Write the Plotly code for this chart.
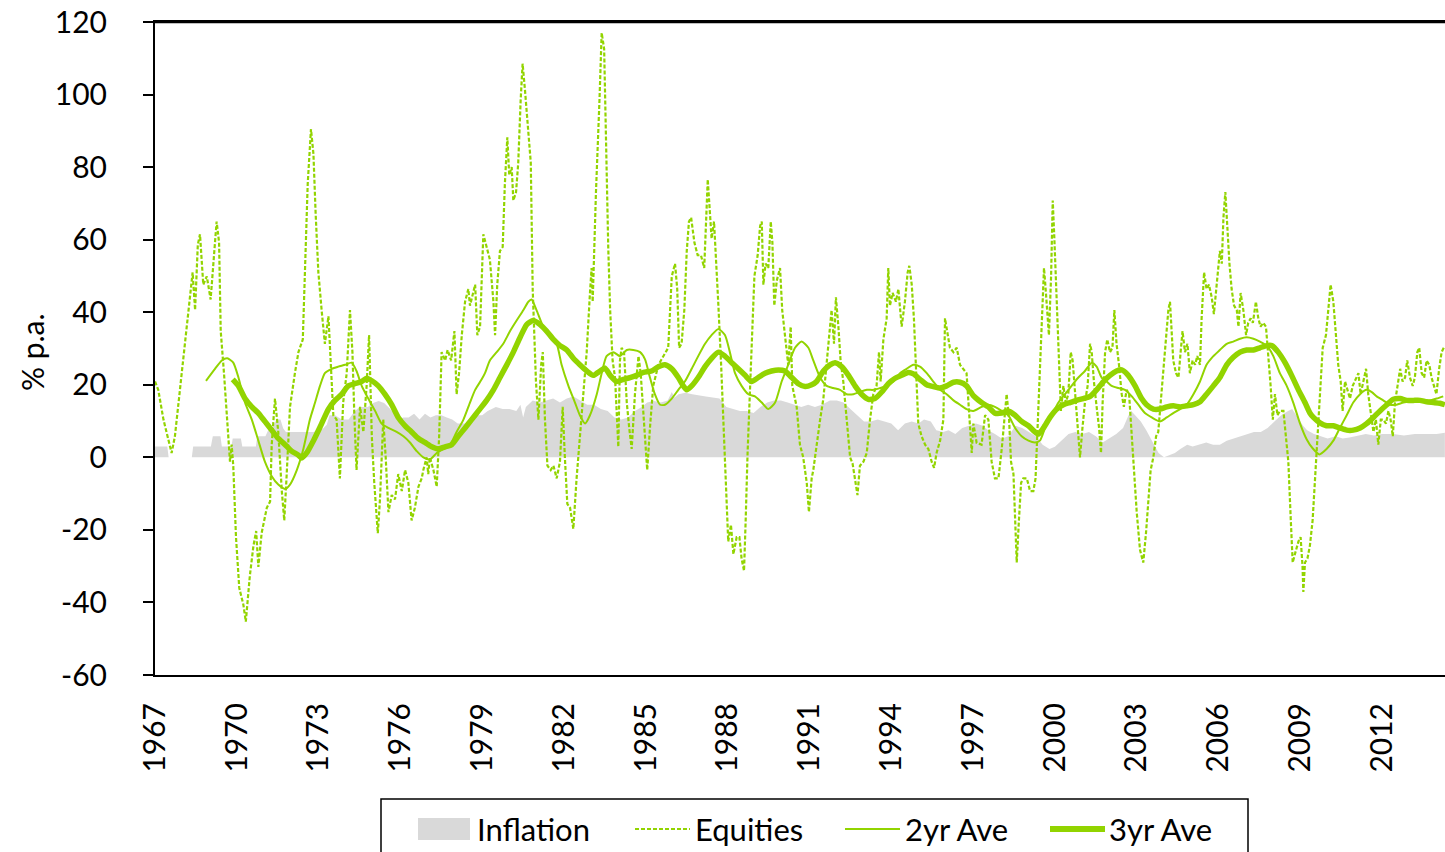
import plotly.graph_objects as go

# ---------------- data ----------------
tick_years = [1967, 1970, 1973, 1976, 1979, 1982, 1985, 1988, 1991, 1994, 1997, 2000, 2003, 2006, 2009, 2012]
tick_labels = [str(y) for y in tick_years]
y_ticks = [120, 100, 80, 60, 40, 20, 0, -20, -40, -60]
y_tick_labels = ["120", "100", "80", "60", "40", "20", "0", "-20", "-40", "-60"]

infl_year = [1967.00, 1967.45, 1967.50, 1968.35, 1968.40, 1969.05, 1969.12, 1969.40, 1969.45, 1969.80,
             1969.85, 1970.15, 1970.20, 1970.70, 1970.75, 1971.05, 1971.15, 1971.30, 1971.45, 1971.60,
             1971.70, 1971.80, 1972.10, 1972.40, 1972.80, 1973.10, 1973.30, 1973.40, 1973.60, 1973.85,
             1974.10, 1974.30, 1974.50, 1974.80, 1975.00, 1975.20, 1975.40, 1975.60, 1975.80, 1975.95,
             1976.10, 1976.30, 1976.50, 1976.70, 1976.90, 1977.10, 1977.30, 1977.50, 1977.70, 1977.90,
             1978.10, 1978.40, 1978.60, 1978.80, 1979.00, 1979.20, 1979.50, 1979.75, 1980.00, 1980.25,
             1980.40, 1980.50, 1980.60, 1980.85, 1981.10, 1981.35, 1981.60, 1981.85, 1982.10, 1982.35,
             1982.60, 1982.85, 1983.10, 1983.35, 1983.60, 1983.85, 1984.10, 1984.35, 1984.60, 1984.85,
             1985.05, 1985.30, 1985.55, 1985.80, 1985.95, 1986.05, 1986.20, 1986.45, 1986.70, 1986.95,
             1987.20, 1987.45, 1987.70, 1987.95, 1988.20, 1988.45, 1988.70, 1988.95, 1989.20, 1989.45,
             1989.70, 1989.95, 1990.20, 1990.45, 1990.70, 1990.95, 1991.20, 1991.45, 1991.75, 1992.00,
             1992.25, 1992.50, 1992.75, 1993.00, 1993.25, 1993.50, 1993.75, 1994.00, 1994.25, 1994.50,
             1994.75, 1995.00, 1995.20, 1995.45, 1995.65, 1995.90, 1996.10, 1996.35, 1996.60, 1996.85,
             1997.10, 1997.35, 1997.55, 1997.80, 1998.05, 1998.30, 1998.55, 1998.80, 1999.05, 1999.30,
             1999.55, 1999.80, 2000.00, 2000.25, 2000.50, 2000.75, 2001.00, 2001.25, 2001.50, 2001.75,
             2002.00, 2002.25, 2002.50, 2002.70, 2002.80, 2002.95, 2003.15, 2003.35, 2003.60, 2003.80,
             2004.00, 2004.20, 2004.40, 2004.60, 2004.85, 2005.05, 2005.30, 2005.55, 2005.80, 2006.05,
             2006.30, 2006.55, 2006.80, 2007.00, 2007.30, 2007.55, 2007.80, 2008.05, 2008.30, 2008.55,
             2008.70, 2008.90, 2009.10, 2009.25, 2009.50, 2009.75, 2010.00, 2010.30, 2010.55, 2010.80,
             2011.10, 2011.40, 2011.70, 2012.00, 2012.40, 2012.80, 2013.20, 2013.60, 2014.00, 2014.30]
infl_val = [3, 3, 0, 0, 3, 3, 5.8, 5.8, 3, 3,
            5.2, 5.2, 3, 3, 5.8, 5.8, 7.5, 8, 10.4, 10.4,
            8, 7, 7, 7, 7, 7.5, 9, 11.6, 11.6, 10.4,
            10.4, 12.5, 13.9, 13.9, 15, 15.5, 15, 13.5, 11.6, 10.4,
            11, 11, 12, 10.4, 12, 11, 11.6, 11.6, 11, 10.4,
            9.3, 9.3, 10.4, 11.6, 11.6, 12.8, 13.9, 13.3, 13.3, 12.8,
            14.5, 11, 13.9, 15.7, 15.1, 15.7, 16.2, 15.1, 16.2, 16.8,
            15.7, 14.5, 14.5, 13.3, 12.8, 11, 10.4, 11, 12.8, 13.9,
            15.1, 15.5, 15.1, 15.7, 18.0, 16.5, 17.4, 17.8, 17.4, 17.0,
            16.8, 16.5, 16.2, 13.9, 13.3, 12.8, 12.8, 12.2, 13.9, 15.1,
            15.7, 15.7, 15.1, 14.5, 13.9, 14.5, 13.9, 14.5, 15.7, 15.7,
            15.1, 13.3, 11.6, 9.9, 9.9, 10.4, 9.9, 9.3, 7.5, 9.3,
            9.9, 9.3, 10.4, 9.9, 7.5, 7, 7.5, 6.4, 8.1, 8.7,
            9.3, 8.7, 7.5, 6.4, 5.2, 5.8, 8.7, 8.1, 7, 5.8,
            3.5, 2.3, 2.9, 4.6, 6.4, 7, 6.4, 7, 5.8, 4.1,
            5.2, 6.4, 8.1, 11.6, 12.8, 11.6, 9.9, 7.5, 4.1, 1.2,
            0, 0.6, 1.2, 2.3, 3.5, 3, 3.5, 4.1, 3.5, 3.5,
            4.6, 5.2, 5.8, 6.4, 7, 7, 8.1, 9.9, 11.6, 12.8,
            13.3, 11, 8.7, 7.5, 6.4, 5.8, 5.2, 5.8, 5.2, 5.5,
            6, 6.4, 6, 6.4, 6.4, 6, 6.4, 6.4, 6.4, 6.8]

eq_year = [1967.00, 1967.12, 1967.31, 1967.49, 1967.61, 1967.73, 1967.92, 1968.10, 1968.22, 1968.38,
           1968.47, 1968.57, 1968.65, 1968.77, 1968.90, 1969.04, 1969.20, 1969.26, 1969.35, 1969.41,
           1969.53, 1969.69, 1969.75, 1969.81, 1969.87, 1969.97, 1970.09, 1970.24, 1970.33, 1970.48,
           1970.61, 1970.71, 1970.79, 1970.91, 1971.10, 1971.22, 1971.28, 1971.40, 1971.52, 1971.65,
           1971.74, 1971.83, 1971.95, 1972.13, 1972.26, 1972.42, 1972.50, 1972.60, 1972.72, 1972.81,
           1972.89, 1972.99, 1973.11, 1973.23, 1973.36, 1973.42, 1973.54, 1973.66, 1973.78, 1973.90,
           1974.03, 1974.15, 1974.24, 1974.31, 1974.39, 1974.52, 1974.64, 1974.76, 1974.85, 1974.95,
           1975.04, 1975.17, 1975.25, 1975.37, 1975.46, 1975.56, 1975.68, 1975.80, 1975.92, 1976.05,
           1976.17, 1976.29, 1976.41, 1976.53, 1976.66, 1976.78, 1976.84, 1976.96, 1977.02, 1977.08,
           1977.21, 1977.33, 1977.42, 1977.51, 1977.64, 1977.73, 1977.86, 1977.98, 1978.06, 1978.15,
           1978.25, 1978.37, 1978.49, 1978.55, 1978.65, 1978.74, 1978.82, 1978.92, 1979.04, 1979.16,
           1979.28, 1979.41, 1979.47, 1979.55, 1979.65, 1979.75, 1979.83, 1979.92, 1979.99, 1980.08,
           1980.14, 1980.24, 1980.32, 1980.41, 1980.48, 1980.57, 1980.69, 1980.78, 1980.85, 1980.97,
           1981.06, 1981.16, 1981.22, 1981.30, 1981.39, 1981.51, 1981.61, 1981.73, 1981.85, 1981.95,
           1982.03, 1982.12, 1982.22, 1982.34, 1982.46, 1982.56, 1982.71, 1982.83, 1982.95, 1983.01,
           1983.05, 1983.17, 1983.30, 1983.38, 1983.47, 1983.56, 1983.62, 1983.69, 1983.78, 1983.87,
           1983.93, 1983.99, 1984.05, 1984.11, 1984.20, 1984.30, 1984.39, 1984.48, 1984.60, 1984.73,
           1984.81, 1984.91, 1984.99, 1985.05, 1985.15, 1985.27, 1985.46, 1985.64, 1985.82, 1985.95,
           1986.07, 1986.15, 1986.22, 1986.31, 1986.41, 1986.50, 1986.58, 1986.66, 1986.78, 1986.90,
           1987.02, 1987.14, 1987.20, 1987.27, 1987.35, 1987.41, 1987.50, 1987.56, 1987.66, 1987.76,
           1987.84, 1987.93, 1988.02, 1988.12, 1988.21, 1988.33, 1988.43, 1988.51, 1988.60, 1988.66,
           1988.73, 1988.86, 1988.98, 1989.10, 1989.19, 1989.25, 1989.31, 1989.39, 1989.49, 1989.58,
           1989.64, 1989.71, 1989.80, 1989.92, 1990.00, 1990.10, 1990.22, 1990.31, 1990.37, 1990.53,
           1990.65, 1990.77, 1990.90, 1990.98, 1991.08, 1991.14, 1991.26, 1991.39, 1991.51, 1991.63,
           1991.75, 1991.81, 1991.90, 1991.97, 1992.06, 1992.14, 1992.24, 1992.36, 1992.49, 1992.58,
           1992.67, 1992.76, 1992.85, 1992.98, 1993.10, 1993.22, 1993.34, 1993.46, 1993.55, 1993.61,
           1993.71, 1993.83, 1993.89, 1993.95, 1994.05, 1994.17, 1994.26, 1994.38, 1994.50, 1994.60,
           1994.66, 1994.75, 1994.83, 1994.91, 1994.99, 1995.11, 1995.24, 1995.36, 1995.48, 1995.57,
           1995.66, 1995.79, 1995.91, 1995.97, 1996.06, 1996.15, 1996.28, 1996.40, 1996.52, 1996.64,
           1996.76, 1996.86, 1996.95, 1997.01, 1997.13, 1997.31, 1997.44, 1997.56, 1997.68, 1997.80,
           1997.93, 1998.05, 1998.15, 1998.23, 1998.32, 1998.39, 1998.48, 1998.54, 1998.60, 1998.68,
           1998.76, 1998.84, 1998.97, 1999.09, 1999.21, 1999.29, 1999.37, 1999.45, 1999.51, 1999.60,
           1999.66, 1999.74, 1999.78, 1999.86, 1999.92, 1999.98, 2000.07, 2000.15, 2000.22, 2000.31,
           2000.40, 2000.49, 2000.58, 2000.65, 2000.74, 2000.83, 2000.92, 2001.01, 2001.10, 2001.20,
           2001.29, 2001.35, 2001.43, 2001.53, 2001.62, 2001.69, 2001.75, 2001.84, 2001.92, 2002.02,
           2002.11, 2002.18, 2002.26, 2002.35, 2002.45, 2002.53, 2002.63, 2002.72, 2002.82, 2002.91,
           2003.00, 2003.12, 2003.24, 2003.34, 2003.43, 2003.51, 2003.61, 2003.71, 2003.79, 2003.88,
           2003.98, 2004.07, 2004.16, 2004.22, 2004.28, 2004.34, 2004.44, 2004.53, 2004.61, 2004.68,
           2004.77, 2004.86, 2004.95, 2005.05, 2005.14, 2005.22, 2005.32, 2005.38, 2005.47, 2005.56,
           2005.65, 2005.75, 2005.83, 2005.91, 2005.99, 2006.05, 2006.12, 2006.18, 2006.25, 2006.32,
           2006.40, 2006.48, 2006.57, 2006.67, 2006.73, 2006.81, 2006.91, 2007.01, 2007.09, 2007.18,
           2007.26, 2007.37, 2007.46, 2007.54, 2007.64, 2007.74, 2007.82, 2007.91, 2007.99, 2008.07,
           2008.16, 2008.25, 2008.38, 2008.47, 2008.56, 2008.65, 2008.72, 2008.80, 2008.93, 2009.01,
           2009.08, 2009.11, 2009.17, 2009.26, 2009.35, 2009.45, 2009.54, 2009.62, 2009.72, 2009.82,
           2009.94, 2010.03, 2010.11, 2010.21, 2010.31, 2010.39, 2010.48, 2010.55, 2010.64, 2010.72,
           2010.82, 2010.92, 2011.04, 2011.13, 2011.21, 2011.31, 2011.41, 2011.49, 2011.58, 2011.68,
           2011.77, 2011.86, 2011.95, 2012.04, 2012.14, 2012.23, 2012.31, 2012.39, 2012.47, 2012.56,
           2012.66, 2012.75, 2012.84, 2012.92, 2013.02, 2013.12, 2013.20, 2013.29, 2013.36, 2013.45,
           2013.54, 2013.63, 2013.73, 2013.81, 2013.90, 2013.99, 2014.09, 2014.18, 2014.26]
eq_val = [20.9, 18.6, 10.4, 4.6, 1.2, 5.8, 18.6, 31.3, 40.6, 51,
          40.6, 58.6, 61.5, 47.6, 49.9, 43.5, 59.2, 65, 59.2, 34.8,
          23.2, 7, -1.2, 3.5, -2.3, -22, -36, -40.6, -45.3, -32.5,
          -24.4, -20.3, -30.2, -20.9, -13.9, -12.2, 3.5, 16.2, 7, -9.3,
          -17.4, -4.6, 13.9, 23.2, 29, 32.5, 52.2, 75.4, 90.5, 83.6,
          67.3, 51, 40.6, 31.3, 38.9, 30.2, 11.6, 10.4, -5.8, 15.1,
          23.2, 40.6, 29, 11.6, -3.5, 13.9, 7, 19.7, 33.7, 5.8,
          -7, -20.9, -11.6, 10.4, 0, -15.1, -10.4, -11.6, -4.6, -9.3,
          -3.5, -7, -17.4, -13.9, -8.1, -5.8, -3.5, 0, -4.6, 0,
          -3.5, -8.1, 5.8, 29, 26.7, 29.6, 26.7, 34.8, 17.4, 23.2,
          33.7, 42.9, 46.4, 41.8, 45.3, 47.6, 33.7, 36, 61.5, 58,
          54.5, 42.9, 33.7, 47.6, 56.9, 58, 75.4, 88.2, 77.8, 80,
          70.8, 73.1, 81.2, 98.6, 108.5, 101, 89.4, 81.2, 46.4, 20.9,
          10.4, 25.5, 29, 10.4, -2.3, -3.5, -2.3, -5.8, -1.2, 13.9,
          0, -12.8, -13.9, -19.7, -5.8, 3.5, 17.4, 29, 45.3, 52.2,
          42.9, 73.1, 98.6, 117, 112.6, 75.4, 58, 40.6, 26.7, 22,
          11.6, 2.9, 26.7, 30.2, 29, 15.1, 8.1, 2.3, 17.4, 27.9,
          23.2, 11.6, 2.3, -3.5, 8.1, 19.7, 25.5, 27.9, 30.2, 49.9,
          53.4, 46.4, 30.2, 31.3, 40.6, 56.9, 65, 66.1, 59.2, 55.7,
          55.7, 52.2, 66.1, 76.6, 67.3, 60.3, 65, 56.9, 41.8, 25.5,
          10.4, -5.8, -23.2, -18.6, -26.7, -22, -22, -27.9, -31.3, -17.4,
          1.2, 26.7, 49.9, 55.7, 63.8, 65, 47.6, 53.4, 52.2, 65,
          59.2, 41.8, 48.7, 52.2, 40.6, 33.7, 25.5, 36, 19.7, 13.9,
          3.5, 0, -7, -15.1, -5.8, -3.5, 3.5, 10.4, 16.2, 26.7,
          37.1, 40.6, 31.3, 44.1, 36, 26.7, 20.9, 10.4, 0, -1.7,
          -5.8, -10.4, -2.3, -1.2, 1.2, 10.4, 17.4, 19.7, 29, 20.9,
          32.5, 38.3, 52.2, 41.8, 45.3, 42.9, 46.4, 36, 42.9, 51,
          52.8, 47.6, 38.3, 25.5, 9.3, 5.8, 3.5, 2.3, -1.2, -2.9,
          1.2, 4.6, 10.4, 38.3, 33.7, 30.2, 29, 30.2, 25.5, 24.4,
          23.2, 11.6, 1.2, 9.3, 4, 3.5, 11.6, 10.4, -1.2, -5.8,
          -5.8, 2.3, 10.4, 17.4, 10.4, -1.2, -4.6, -17.4, -29, -17.4,
          -7, -5.8, -5.8, -9.3, -9.3, -5.8, 10.4, 22, 33.7, 52.2,
          46.4, 36, 33.7, 49.9, 70.8, 60.3, 42.9, 24.4, 12.8, 19.7,
          15.1, 17.4, 29, 26.7, 17.4, 8.1, 0, 8.1, 15.1, 19.7,
          31.3, 29, 20.9, 13.9, 8.1, 1.2, 15.1, 29, 32.5, 29,
          30.2, 40.6, 31.3, 25.5, 17.4, 13.9, 18.6, 17.4, 5.8, -5.8,
          -15.1, -25.5, -29, -20.9, -11.6, -3.5, 0, 5.8, 7, 15.1,
          23.2, 32.5, 40.6, 42.9, 34.8, 26.7, 23.2, 22, 29, 34.8,
          29, 31.3, 23.2, 26.7, 25.5, 27.9, 25.5, 38.3, 51, 46.4,
          47.6, 44.1, 39.5, 45.3, 52.2, 56.9, 53.4, 66.1, 73.1, 63.8,
          53.4, 46.4, 41.8, 40.6, 36, 45.3, 40.6, 33.7, 37.1, 38.3,
          37.1, 42.9, 38.3, 36, 37.1, 36, 29, 19.7, 10.4, 17.4,
          11.6, 12.8, 12.8, 5.8, -1.2, -17.4, -29, -26.7, -23.2, -22,
          -30, -37.1, -29, -27.9, -24.4, -17.4, -5.8, 5.8, 19.7, 30.2,
          33.7, 40.6, 47.6, 42.9, 33.7, 25.5, 20.9, 12.8, 20.9, 18.6,
          16.2, 19.7, 22, 23.2, 17.4, 20.9, 24.4, 17.4, 12.8, 7,
          10.4, 3.5, 10.4, 10.4, 9.3, 12.8, 10.4, 5.8, 15.1, 19.7,
          24.4, 20.9, 22, 26.7, 22, 19.7, 22, 29, 30.2, 23.2,
          22, 26.7, 25.5, 22, 19.7, 17.4, 24.4, 29, 30.2]

ave2_year = [1968.87, 1969.20, 1969.45, 1969.65, 1969.87, 1970.06, 1970.30, 1970.55, 1970.79, 1971.03,
             1971.28, 1971.52, 1971.77, 1971.95, 1972.20, 1972.44, 1972.68, 1972.87, 1973.05, 1973.23,
             1973.48, 1973.72, 1973.97, 1974.21, 1974.39, 1974.58, 1974.82, 1975.07, 1975.31, 1975.56,
             1975.86, 1976.11, 1976.35, 1976.60, 1976.84, 1977.08, 1977.33, 1977.57, 1977.82, 1978.06,
             1978.31, 1978.55, 1978.74, 1978.98, 1979.10, 1979.28, 1979.53, 1979.77, 1980.02, 1980.26,
             1980.51, 1980.69, 1980.81, 1980.99, 1981.24, 1981.48, 1981.73, 1981.91, 1982.16, 1982.40,
             1982.58, 1982.77, 1982.95, 1983.20, 1983.38, 1983.56, 1983.81, 1984.05, 1984.30, 1984.54,
             1984.79, 1984.97, 1985.15, 1985.33, 1985.52, 1985.70, 1985.95, 1986.19, 1986.43, 1986.68,
             1986.92, 1987.17, 1987.41, 1987.66, 1987.90, 1988.08, 1988.27, 1988.51, 1988.76, 1989.00,
             1989.25, 1989.49, 1989.74, 1989.98, 1990.22, 1990.47, 1990.71, 1990.96, 1991.14, 1991.39,
             1991.63, 1991.87, 1992.12, 1992.36, 1992.61, 1992.85, 1993.10, 1993.34, 1993.59, 1993.83,
             1994.08, 1994.32, 1994.56, 1994.81, 1995.05, 1995.30, 1995.54, 1995.79, 1996.03, 1996.28,
             1996.52, 1996.76, 1997.01, 1997.31, 1997.56, 1997.80, 1998.05, 1998.29, 1998.54, 1998.78,
             1999.03, 1999.27, 1999.45, 1999.64, 1999.88, 2000.13, 2000.37, 2000.61, 2000.86, 2001.10,
             2001.35, 2001.53, 2001.71, 2001.90, 2002.08, 2002.33, 2002.57, 2002.82, 2003.06, 2003.30,
             2003.55, 2003.85, 2004.10, 2004.34, 2004.59, 2004.83, 2005.08, 2005.32, 2005.56, 2005.81,
             2006.05, 2006.30, 2006.54, 2006.79, 2007.03, 2007.28, 2007.52, 2007.77, 2008.01, 2008.25,
             2008.50, 2008.74, 2008.99, 2009.23, 2009.45, 2009.70, 2009.96, 2010.21, 2010.45, 2010.70,
             2010.94, 2011.19, 2011.43, 2011.62, 2011.80, 2012.04, 2012.29, 2012.53, 2012.78, 2013.02,
             2013.27, 2013.51, 2013.76, 2014.00, 2014.24]
ave2_val = [21.1, 24.4, 26.7, 27.3, 26.1, 22, 15.1, 10.4, 4.6, -1.2,
            -5.2, -7.5, -8.7, -7.5, -3.5, 2.3, 10.4, 15.1, 19.7, 23.2,
            24.4, 25, 25.5, 26.1, 23.8, 19.7, 16.2, 12.8, 9.3, 8.1,
            7, 5.8, 4.1, 1.7, 0, -0.6, 1.2, 2.3, 3.5, 7,
            10.4, 15.1, 18.6, 21.5, 23.2, 26.7, 29, 31.3, 34.8, 37.7,
            40.6, 42.9, 43.5, 40.6, 36, 33.7, 31.3, 25.5, 19.7, 15.1,
            11.6, 9.3, 11.6, 17.4, 23.2, 27.9, 29, 27.9, 29.6, 29.6,
            29, 27, 22, 17.4, 14.5, 14.5, 16.2, 18.6, 20.9, 24.4,
            27.9, 31.3, 33.7, 35.4, 33.7, 29, 23.2, 19.7, 17.4, 16.8,
            15.1, 13.3, 15.1, 20.9, 25.5, 30.2, 31.9, 30.2, 26.7, 22,
            19.7, 19.1, 18.6, 17.4, 17.4, 18, 18.6, 18.6, 19.1, 19.7,
            20.9, 23.2, 24.4, 25.5, 25, 23.2, 20.9, 18.6, 17.4, 15.7,
            14.5, 13.3, 12.8, 13.9, 14.5, 13.9, 12.8, 11.6, 8.1, 5.8,
            4.6, 4.1, 4.6, 8.1, 11.6, 15.1, 17.4, 19.7, 22, 23.8,
            26.1, 25, 22, 20.9, 19.7, 19.1, 18.6, 16.8, 14.5, 12.2,
            11, 9.9, 11, 12.2, 13.3, 14.5, 17.4, 20.9, 25.5, 27.9,
            29.6, 31.3, 31.9, 32.7, 33.1, 32.7, 31.9, 30.8, 27.9, 23.2,
            19.7, 15.1, 9.3, 5, 2.5, 0.8, 2.3, 4.6, 8.1, 11.6,
            15.1, 17.4, 18.6, 18, 16.8, 15.7, 14.5, 14.5, 15.1, 15.3,
            15.3, 15.3, 15.7, 16.2, 16.8]

ave3_year = [1969.85, 1970.06, 1970.30, 1970.55, 1970.79, 1971.03, 1971.28, 1971.52, 1971.77, 1972.01,
             1972.26, 1972.38, 1972.56, 1972.81, 1973.05, 1973.36, 1973.60, 1973.85, 1974.09, 1974.33,
             1974.58, 1974.76, 1974.95, 1975.19, 1975.43, 1975.68, 1975.92, 1976.17, 1976.41, 1976.66,
             1976.90, 1977.15, 1977.39, 1977.64, 1977.88, 1978.12, 1978.37, 1978.61, 1978.86, 1979.16,
             1979.41, 1979.65, 1979.90, 1980.14, 1980.39, 1980.63, 1980.87, 1981.12, 1981.36, 1981.61,
             1981.85, 1982.10, 1982.34, 1982.58, 1982.83, 1983.07, 1983.32, 1983.50, 1983.69, 1983.93,
             1984.18, 1984.42, 1984.66, 1984.91, 1985.21, 1985.46, 1985.70, 1985.95, 1986.19, 1986.37,
             1986.50, 1986.68, 1986.92, 1987.17, 1987.41, 1987.66, 1987.90, 1988.15, 1988.39, 1988.64,
             1988.88, 1989.12, 1989.37, 1989.61, 1989.86, 1990.10, 1990.35, 1990.59, 1990.84, 1991.08,
             1991.26, 1991.51, 1991.75, 1991.94, 1992.18, 1992.43, 1992.67, 1992.91, 1993.16, 1993.40,
             1993.65, 1993.89, 1994.14, 1994.38, 1994.62, 1994.81, 1995.05, 1995.30, 1995.54, 1995.79,
             1996.03, 1996.28, 1996.52, 1996.76, 1997.01, 1997.31, 1997.56, 1997.80, 1998.05, 1998.29,
             1998.54, 1998.78, 1999.03, 1999.27, 1999.39, 1999.58, 1999.82, 2000.07, 2000.31, 2000.55,
             2000.80, 2001.04, 2001.29, 2001.53, 2001.78, 2002.02, 2002.26, 2002.45, 2002.69, 2002.94,
             2003.18, 2003.36, 2003.61, 2003.85, 2004.10, 2004.34, 2004.59, 2004.83, 2005.08, 2005.32,
             2005.56, 2005.81, 2006.05, 2006.30, 2006.54, 2006.79, 2007.03, 2007.28, 2007.52, 2007.77,
             2007.95, 2008.19, 2008.44, 2008.68, 2008.93, 2009.17, 2009.35, 2009.48, 2009.72, 2009.96,
             2010.21, 2010.45, 2010.70, 2010.94, 2011.19, 2011.43, 2011.68, 2011.92, 2012.17, 2012.41,
             2012.66, 2012.90, 2013.14, 2013.39, 2013.63, 2013.88, 2014.12, 2014.30]
ave3_val = [21.5, 19.7, 16.2, 13.9, 12.2, 9.9, 7.5, 5.2, 3.5, 1.7,
            0.6, -0.2, 1.2, 4.6, 8.3, 13.3, 15.7, 17.4, 19.7, 20.3,
            20.9, 21.8, 21.1, 19.7, 17.4, 14.5, 11, 8.7, 7, 5.2,
            4.1, 2.9, 2.3, 2.9, 3.5, 5.8, 8.1, 10.4, 12.8, 15.7,
            18.6, 22, 25.5, 29, 33.1, 36.6, 37.7, 36.6, 34.8, 32.5,
            30.8, 29.6, 27.3, 25.5, 23.8, 22.6, 23.8, 24.6, 22.6, 20.9,
            21.5, 22, 22.6, 23.4, 23.8, 25, 25.5, 24.4, 22, 19.7,
            18.6, 19.7, 22, 25, 27.3, 29, 27.9, 26.1, 24.4, 22.6,
            20.9, 22, 23.2, 23.8, 24.1, 23.8, 22, 20.3, 19.5, 20,
            20.9, 23.8, 25.5, 26.1, 25, 22.6, 19.7, 17.4, 16, 16.2,
            18, 20.3, 21.8, 22.6, 23.4, 23, 21.5, 20, 19.5, 19.1,
            19.7, 20.7, 20.7, 19.7, 17, 15.1, 13.9, 12.2, 12.2, 12.8,
            11.6, 9.9, 8.7, 7, 6.4, 8.1, 11, 13.3, 14.5, 15.1,
            15.7, 16.2, 16.8, 18.6, 20.9, 22.6, 23.8, 24.1, 22.6, 19.7,
            16.2, 14.5, 13.3, 13.3, 13.9, 14.2, 13.9, 14.2, 14.5, 15.3,
            17.4, 19.7, 22, 25.5, 27.6, 29, 29.6, 29.6, 30.2, 30.8,
            30.8, 29, 26.1, 22.6, 18.6, 15.1, 12.2, 11, 9.5, 8.7,
            8.7, 8.1, 7.5, 7.5, 8.1, 9.3, 11, 12.8, 14.5, 16,
            16.2, 15.7, 15.7, 15.7, 15.3, 15.1, 14.9, 14.5]

# ---------------- styling ----------------
GREEN = "#92D400"
GREY = "#D9D9D9"
FONT = "Lato"
W, H = 1445, 852
L, R, T, B = 155, 1445, 22, 675   # plot area in window pixels


def px_x(X):
    return (X - L) / (R - L)


def px_y(Y):
    return (B - Y) / (B - T)


fig = go.Figure()
fig.add_trace(go.Scatter(x=infl_year, y=infl_val, name="Inflation", mode="lines",
                         line=dict(width=0, color=GREY), fill="tozeroy", fillcolor=GREY,
                         showlegend=False, hoverinfo="skip"))
fig.add_trace(go.Scatter(x=eq_year, y=eq_val, name="Equities", mode="lines",
                         line=dict(width=2.2, color=GREEN, dash="4px,2px"), showlegend=False))
fig.add_trace(go.Scatter(x=ave2_year, y=ave2_val, name="2yr Ave", mode="lines",
                         line=dict(width=2, color=GREEN, shape="spline", smoothing=0.6), showlegend=False))
fig.add_trace(go.Scatter(x=ave3_year, y=ave3_val, name="3yr Ave", mode="lines",
                         line=dict(width=5.5, color=GREEN, shape="spline", smoothing=0.6), showlegend=False))

x_range = [1967.0, 1967.0 + (R - L) / 27.27]

fig.update_layout(
    width=W, height=H,
    margin=dict(l=L, r=W - R, t=T, b=H - B, autoexpand=False),
    paper_bgcolor="white", plot_bgcolor="white",
    font=dict(family=FONT, size=30, color="black"),
    showlegend=False,
    xaxis=dict(range=x_range, tickvals=tick_years, ticktext=tick_labels, tickangle=-90,
               ticks="", showline=True, linecolor="black", linewidth=2, mirror=True,
               showgrid=False, zeroline=False, ticklabelstandoff=14, automargin=False,
               ticklabeloverflow="allow",
               tickfont=dict(family=FONT, size=30, color="black")),
    xaxis2=dict(range=x_range, overlaying="x", anchor="free", position=60 / 180, side="bottom",
                tickvals=tick_years, ticks="outside", ticklen=9, tickwidth=1.5, tickcolor="#404040",
                showline=True, linecolor="#595959", linewidth=2, showticklabels=False,
                showgrid=False, zeroline=False),
    yaxis=dict(range=[-60, 120], tickvals=y_ticks, ticktext=y_tick_labels, ticks="outside",
               ticklen=10, tickwidth=1.5, automargin=False, ticklabeloverflow="allow",
               tickcolor="black", showline=True, linecolor="black", linewidth=2,
               showgrid=False, zeroline=False, ticklabelstandoff=30,
               tickfont=dict(family=FONT, size=30, color="black")),
)

# top border of the plot frame
fig.add_shape(type="line", xref="paper", yref="paper", x0=0, x1=1, y0=1, y1=1,
              line=dict(color="black", width=2.5), layer="above")

# y axis title
fig.add_annotation(text="% p.a.", xref="paper", yref="paper", x=px_x(32), y=px_y(352),
                   textangle=-90, showarrow=False, xanchor="center", yanchor="middle",
                   font=dict(family=FONT, size=30, color="black"))

# ---------------- manual legend ----------------
fig.add_shape(type="rect", xref="paper", yref="paper", x0=px_x(381), x1=px_x(1248),
              y0=px_y(799), y1=px_y(880), line=dict(color="black", width=1.5), fillcolor="white")
ly = px_y(829)
fig.add_shape(type="rect", xref="paper", yref="paper", x0=px_x(418), x1=px_x(470),
              y0=px_y(840), y1=px_y(818), line=dict(width=0), fillcolor=GREY)
fig.add_shape(type="line", xref="paper", yref="paper", x0=px_x(635), x1=px_x(690), y0=ly, y1=ly,
              line=dict(color=GREEN, width=2, dash="4px,2px"))
fig.add_shape(type="line", xref="paper", yref="paper", x0=px_x(845), x1=px_x(900), y0=ly, y1=ly,
              line=dict(color=GREEN, width=2))
fig.add_shape(type="line", xref="paper", yref="paper", x0=px_x(1050), x1=px_x(1105), y0=ly, y1=ly,
              line=dict(color=GREEN, width=6))
for label, X in [("Inflation", 475), ("Equities", 693), ("2yr Ave", 903), ("3yr Ave", 1107)]:
    fig.add_annotation(text=label, xref="paper", yref="paper", x=px_x(X), y=ly,
                       showarrow=False, xanchor="left", yanchor="middle",
                       font=dict(family=FONT, size=31, color="black"))

# remove the browser's default page margin so the figure sits at the window origin
fig.write_html("out.html", config={"displayModeBar": False},
               post_script="document.body.style.margin='0px';document.body.style.overflow='hidden';")
